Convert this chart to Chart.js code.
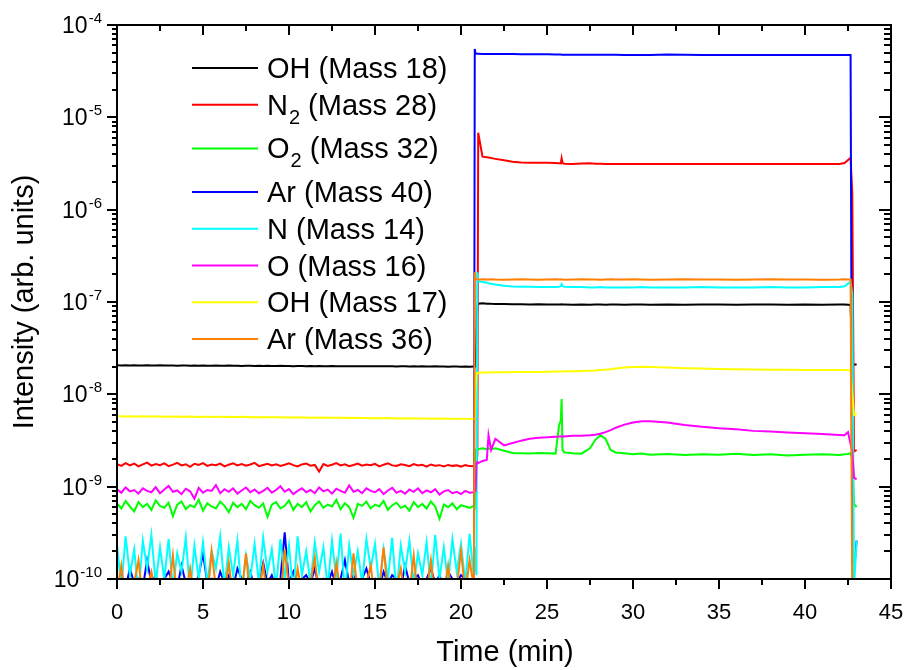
<!DOCTYPE html>
<html>
<head>
<meta charset="utf-8">
<title>Mass spectrometer signals</title>
<script src="https://cdn.jsdelivr.net/npm/chart.js@4.4.1/dist/chart.umd.min.js"></script>
<style>
  html, body { margin: 0; padding: 0; background: #fff; }
  #wrap { width: 906px; height: 670px; position: relative; }
</style>
</head>
<body>
<div id="wrap"><canvas id="msChart"></canvas></div>
<script>
// axis tick labels
const xTicks = [0, 5, 10, 15, 20, 25, 30, 35, 40, 45];
const yExponents = [-10, -9, -8, -7, -6, -5, -4];

// legend: species, subscript, mass number
const species = ['OH', 'N', 'O', 'Ar', 'N', 'O', 'OH', 'Ar'];
const subscripts = ['', '2', '2', '', '', '', '', ''];
const masses = [18, 28, 32, 40, 14, 16, 17, 36];
const lineColors = ['#000000', '#ff0000', '#00ff00', '#0000ff', '#00ffff', '#ff00ff', '#ffff00', '#ff8000'];

// time (min) before the gas is switched on
const baseTime = [
  0, 0.25, 0.5, 0.75, 1, 1.25, 1.5, 1.75, 2, 2.25, 2.5, 2.75,
  3, 3.25, 3.5, 3.75, 4, 4.25, 4.5, 4.75, 5, 5.25, 5.5, 5.75,
  6, 6.25, 6.5, 6.75, 7, 7.25, 7.5, 7.75, 8, 8.25, 8.5, 8.75,
  9, 9.25, 9.5, 9.75, 10, 10.25, 10.5, 10.75, 11, 11.25, 11.5, 11.75,
  12, 12.25, 12.5, 12.75, 13, 13.25, 13.5, 13.75, 14, 14.25, 14.5, 14.75,
  15, 15.25, 15.5, 15.75, 16, 16.25, 16.5, 16.75, 17, 17.25, 17.5, 17.75,
  18, 18.25, 18.5, 18.75, 19, 19.25, 19.5, 19.75, 20, 20.25, 20.5, 20.75
];

// baseline readings, each in the unit given in baseUnit
const oh18Base = [ // x1e-8
  2.06, 2.05, 2.06, 2.05, 2.06, 2.05, 2.05, 2.06, 2.05, 2.05, 2.06, 2.05,
  2.05, 2.05, 2.04, 2.05, 2.05, 2.04, 2.05, 2.04, 2.05, 2.04, 2.04, 2.05,
  2.04, 2.04, 2.05, 2.04, 2.04, 2.03, 2.04, 2.04, 2.03, 2.04, 2.03, 2.04,
  2.03, 2.03, 2.04, 2.03, 2.03, 2.02, 2.03, 2.03, 2.02, 2.03, 2.02, 2.03,
  2.02, 2.02, 2.03, 2.02, 2.02, 2.01, 2.02, 2.02, 2.01, 2.02, 2.01, 2.02,
  2.01, 2.01, 2.02, 2.01, 2.01, 2.0, 2.01, 2.01, 2.0, 2.01, 2.0, 2.01,
  2.0, 2.0, 2.01, 2.0, 2.0, 1.99, 2.0, 2.0, 1.99, 2.0, 1.99, 2.0
];
const n2Base = [ // x1e-9
  1.75, 1.68, 1.80, 1.70, 1.78, 1.66, 1.74, 1.82, 1.69, 1.76, 1.71, 1.79,
  1.67, 1.73, 1.81, 1.70, 1.75, 1.64, 1.77, 1.72, 1.80, 1.68, 1.74, 1.71,
  1.78, 1.66, 1.73, 1.79, 1.70, 1.76, 1.69, 1.74, 1.81, 1.67, 1.72, 1.77,
  1.70, 1.75, 1.68, 1.73, 1.79, 1.71, 1.66, 1.74, 1.78, 1.69, 1.72, 1.46,
  1.76, 1.68, 1.73, 1.80, 1.70, 1.75, 1.67, 1.72, 1.78, 1.69, 1.74, 1.71,
  1.77, 1.66, 1.73, 1.79, 1.70, 1.68, 1.75, 1.72, 1.67, 1.76, 1.70, 1.73,
  1.65, 1.74, 1.69, 1.71, 1.66, 1.72, 1.68, 1.70, 1.65, 1.71, 1.67, 1.66
];
const o2Base = [ // x1e-10
  6.6, 5.8, 7.0, 6.1, 5.4, 6.8, 6.0, 6.5, 5.6, 7.1, 6.2, 5.9,
  6.7, 4.8, 6.4, 6.9, 5.7, 6.3, 6.0, 7.2, 5.5, 6.6, 6.1, 5.8,
  6.9, 6.2, 5.3, 6.7, 6.0, 6.5, 5.7, 7.0, 6.3, 5.9, 6.6, 4.7,
  6.4, 6.8, 5.8, 6.2, 7.1, 5.6, 6.5, 6.0, 6.8, 5.4, 6.3, 6.9,
  5.9, 6.4, 6.1, 7.2, 5.7, 6.6, 6.0, 4.6, 6.5, 6.2, 6.9, 5.8,
  6.4, 6.1, 7.0, 5.6, 6.3, 6.7, 5.9, 6.2, 5.5, 6.8, 6.0, 6.5,
  5.8, 6.9, 6.1, 4.5, 6.4, 6.0, 6.6, 5.7, 6.3, 6.1, 5.9, 6.2
];
const ar40Base = [ // x1e-10
  0.9, 1.1, 0.8, 1.3, 0.9, 1.0, 0.8, 1.6, 0.9, 1.1, 0.8, 1.0,
  1.2, 0.9, 0.8, 1.4, 0.9, 1.0, 0.8, 1.1, 1.9, 0.9, 1.0, 0.8,
  1.2, 0.9, 1.1, 0.8, 1.3, 1.0, 0.9, 1.2, 0.8, 1.0, 1.5, 0.9,
  1.1, 0.8, 1.0, 3.2, 0.9, 1.2, 0.8, 1.0, 1.1, 0.9, 1.3, 0.8,
  1.0, 0.9, 1.2, 0.8, 1.0, 1.6, 0.9, 1.1, 0.8, 1.0, 1.3, 0.9,
  1.0, 0.8, 1.2, 0.9, 1.1, 1.0, 0.8, 1.4, 0.9, 1.0, 1.1, 0.8,
  1.0, 1.3, 0.9, 1.1, 0.8, 1.2, 1.0, 0.9, 1.1, 1.0, 0.8, 0.9
];
const n14Base = [ // x1e-10
  2.4, 0.8, 2.9, 1.1, 2.1, 0.7, 2.6, 1.3, 3.0, 0.9, 2.2, 1.0,
  2.7, 0.8, 1.9, 1.2, 2.8, 0.7, 2.3, 1.0, 2.5, 0.9, 2.0, 1.3,
  2.9, 0.8, 2.2, 1.1, 2.6, 0.7, 1.8, 1.0, 2.4, 0.9, 2.8, 1.2,
  2.1, 0.8, 2.7, 1.0, 2.3, 0.7, 2.9, 1.1, 2.0, 0.9, 2.5, 1.2,
  2.2, 0.8, 2.6, 1.0, 3.1, 0.7, 2.3, 1.1, 2.0, 0.9, 2.7, 1.3,
  2.4, 0.8, 2.1, 1.0, 2.8, 0.7, 2.3, 1.2, 2.6, 0.9, 1.9, 1.1,
  2.5, 0.8, 3.0, 1.0, 2.2, 0.9, 2.7, 1.2, 2.4, 0.9, 3.1, 1.0
];
const o16Base = [ // x1e-10
  9.4, 8.6, 9.8, 8.9, 9.2, 8.4, 9.6, 9.0, 8.7, 9.9, 8.5, 9.3,
  10.2, 8.8, 9.1, 8.3, 9.5, 8.9, 7.4, 9.7, 8.6, 9.2, 9.0, 10.4,
  8.5, 9.4, 8.8, 9.6, 8.4, 9.1, 9.8, 8.7, 9.3, 8.5, 9.0, 9.7,
  8.6, 9.2, 10.1, 8.8, 9.4, 8.3, 9.0, 9.6, 8.7, 9.2, 8.5, 9.8,
  8.9, 9.3, 8.4, 9.5, 9.0, 8.6, 10.3, 8.8, 9.2, 8.5, 9.6, 9.0,
  8.7, 9.4, 8.3, 9.1, 9.7, 8.6, 9.0, 8.4, 9.3, 8.8, 9.6, 8.5,
  9.1, 8.7, 9.4, 8.2, 8.9, 9.2, 8.5, 8.8, 8.3, 9.0, 8.6, 8.7
];
const oh17Base = [ // x1e-9
  5.78, 5.8, 5.76, 5.79, 5.77, 5.75, 5.78, 5.76, 5.77, 5.74, 5.76, 5.73,
  5.75, 5.72, 5.74, 5.73, 5.71, 5.74, 5.72, 5.7, 5.73, 5.71, 5.69, 5.72,
  5.7, 5.68, 5.71, 5.69, 5.67, 5.7, 5.68, 5.66, 5.68, 5.65, 5.67, 5.64,
  5.66, 5.63, 5.65, 5.62, 5.64, 5.61, 5.63, 5.6, 5.62, 5.59, 5.61, 5.58,
  5.6, 5.57, 5.59, 5.56, 5.58, 5.55, 5.57, 5.54, 5.56, 5.53, 5.55, 5.52,
  5.54, 5.51, 5.53, 5.5, 5.52, 5.49, 5.51, 5.48, 5.5, 5.47, 5.49, 5.46,
  5.48, 5.45, 5.47, 5.44, 5.46, 5.43, 5.45, 5.42, 5.44, 5.43, 5.42, 5.44
];
const ar36Base = [ // x1e-10
  0.7, 1.4, 0.6, 0.8, 0.9, 1.6, 0.6, 0.8, 1.2, 0.7, 0.6, 0.9,
  0.7, 1.8, 0.6, 0.8, 0.7, 1.3, 0.6, 0.9, 0.7, 0.6, 2.0, 0.8,
  0.6, 0.7, 1.5, 0.6, 0.8, 0.7, 1.9, 0.6, 0.8, 0.7, 1.4, 0.6,
  0.9, 0.7, 0.6, 2.1, 0.8, 0.6, 1.3, 0.7, 0.6, 0.9, 1.7, 0.6,
  0.8, 0.7, 0.6, 1.5, 0.7, 0.8, 0.6, 1.9, 0.7, 0.6, 0.9, 1.4,
  0.6, 0.8, 2.2, 0.7, 0.6, 0.8, 1.3, 0.6, 0.7, 1.8, 0.6, 0.8,
  0.7, 1.6, 0.6, 0.9, 0.7, 1.4, 0.6, 0.8, 2.0, 0.7, 1.6, 0.8
];
const baseUnit = [1e-8, 1e-9, 1e-10, 1e-10, 1e-10, 1e-10, 1e-9, 1e-10];

// time (min) from gas on to shut down
const runTime = [
  20.8, 20.85, 20.9, 20.95, 21.0, 21.25, 21.5, 21.6, 21.75, 22.0,
  22.5, 23.0, 23.5, 24.0, 24.5, 25.0, 25.5, 25.7, 25.8, 25.85,
  25.9, 26.0, 26.5, 27.0, 27.5, 27.8, 28.1, 28.4, 28.7, 29.0,
  29.5, 30.0, 30.5, 31.0, 32.0, 33.0, 34.0, 35.0, 36.0, 37.0,
  38.0, 39.0, 40.0, 41.0, 42.0, 42.3, 42.5, 42.65, 42.75, 42.85, 43.0
];
const oh18Run = [
  2.0e-8, 2.0e-8, 4.5e-8, 9.0e-8, 9.6e-8, 9.7e-8, 9.6e-8, 9.6e-8, 9.55e-8, 9.5e-8,
  9.5e-8, 9.45e-8, 9.45e-8, 9.4e-8, 9.45e-8, 9.4e-8, 9.4e-8, 9.4e-8, 9.4e-8, 9.45e-8,
  9.4e-8, 9.4e-8, 9.35e-8, 9.4e-8, 9.35e-8, 9.4e-8, 9.4e-8, 9.35e-8, 9.4e-8, 9.4e-8,
  9.35e-8, 9.4e-8, 9.4e-8, 9.35e-8, 9.4e-8, 9.35e-8, 9.4e-8, 9.4e-8, 9.35e-8, 9.4e-8,
  9.4e-8, 9.35e-8, 9.4e-8, 9.35e-8, 9.4e-8, 9.4e-8, 9.35e-8, 9.3e-8, 2.1e-8, 2.1e-8, 2.1e-8
];
const n2Run = [
  1.68e-9, 1.7e-9, 1.8e-9, 2.2e-9, 6.8e-6, 3.75e-6, 3.7e-6, 3.68e-6, 3.62e-6, 3.55e-6,
  3.42e-6, 3.3e-6, 3.25e-6, 3.23e-6, 3.22e-6, 3.22e-6, 3.2e-6, 3.18e-6, 3.17e-6, 3.6e-6,
  3.2e-6, 3.14e-6, 3.13e-6, 3.16e-6, 3.18e-6, 3.15e-6, 3.14e-6, 3.13e-6, 3.12e-6, 3.12e-6,
  3.13e-6, 3.12e-6, 3.13e-6, 3.12e-6, 3.12e-6, 3.12e-6, 3.12e-6, 3.12e-6, 3.12e-6, 3.12e-6,
  3.12e-6, 3.12e-6, 3.12e-6, 3.12e-6, 3.13e-6, 3.2e-6, 3.45e-6, 3.65e-6, 1.5e-6, 2.4e-9, 2.5e-9
];
const o2Run = [
  6.0e-10, 2.5e-9, 2.55e-9, 2.6e-9, 2.55e-9, 2.6e-9, 2.55e-9, 2.6e-9, 2.55e-9, 2.6e-9,
  2.45e-9, 2.32e-9, 2.3e-9, 2.28e-9, 2.32e-9, 2.3e-9, 2.28e-9, 4.6e-9, 5.2e-9, 8.9e-9,
  2.5e-9, 2.35e-9, 2.3e-9, 2.28e-9, 2.6e-9, 3.2e-9, 3.6e-9, 3.3e-9, 2.5e-9, 2.35e-9,
  2.3e-9, 2.25e-9, 2.28e-9, 2.22e-9, 2.26e-9, 2.2e-9, 2.25e-9, 2.22e-9, 2.27e-9, 2.2e-9,
  2.24e-9, 2.18e-9, 2.22e-9, 2.25e-9, 2.2e-9, 2.24e-9, 2.26e-9, 2.3e-9, 2.0e-9, 6.5e-10, 6.0e-10
];
const ar40Run = [
  5.5e-5, 4.9e-5, 4.88e-5, 4.87e-5, 4.87e-5, 4.86e-5, 4.86e-5, 4.86e-5, 4.85e-5, 4.85e-5,
  4.84e-5, 4.84e-5, 4.83e-5, 4.83e-5, 4.82e-5, 4.82e-5, 4.8e-5, 4.8e-5, 4.78e-5, 4.77e-5,
  4.76e-5, 4.76e-5, 4.76e-5, 4.75e-5, 4.75e-5, 4.75e-5, 4.75e-5, 4.75e-5, 4.75e-5, 4.75e-5,
  4.74e-5, 4.74e-5, 4.74e-5, 4.74e-5, 4.78e-5, 4.75e-5, 4.74e-5, 4.74e-5, 4.74e-5, 4.74e-5,
  4.74e-5, 4.74e-5, 4.74e-5, 4.74e-5, 4.74e-5, 4.74e-5, 4.74e-5, 4.74e-5, 1.5e-10, 1.2e-10, 2.6e-10
];
const n14Run = [
  2.2e-10, 1.4e-10, 1.1e-10, 2.1e-7, 1.68e-7, 1.65e-7, 1.62e-7, 1.6e-7, 1.58e-7, 1.55e-7,
  1.5e-7, 1.47e-7, 1.46e-7, 1.46e-7, 1.45e-7, 1.45e-7, 1.45e-7, 1.46e-7, 1.48e-7, 1.56e-7,
  1.5e-7, 1.46e-7, 1.45e-7, 1.45e-7, 1.44e-7, 1.44e-7, 1.45e-7, 1.44e-7, 1.44e-7, 1.44e-7,
  1.44e-7, 1.44e-7, 1.45e-7, 1.44e-7, 1.44e-7, 1.44e-7, 1.45e-7, 1.44e-7, 1.44e-7, 1.44e-7,
  1.45e-7, 1.44e-7, 1.44e-7, 1.45e-7, 1.45e-7, 1.48e-7, 1.58e-7, 1.65e-7, 1.2e-7, 0.8e-10, 2.6e-10
];
const o16Run = [
  8.8e-10, 9.0e-10, 1.8e-9, 1.85e-9, 1.8e-9, 1.9e-9, 1.95e-9, 3.6e-9, 2.5e-9, 3.3e-9,
  2.8e-9, 2.97e-9, 3.15e-9, 3.3e-9, 3.38e-9, 3.42e-9, 3.48e-9, 3.5e-9, 3.52e-9, 3.5e-9,
  3.52e-9, 3.5e-9, 3.55e-9, 3.55e-9, 3.6e-9, 3.65e-9, 3.75e-9, 3.9e-9, 4.1e-9, 4.35e-9,
  4.7e-9, 4.95e-9, 5.1e-9, 5.1e-9, 4.95e-9, 4.65e-9, 4.45e-9, 4.28e-9, 4.18e-9, 4.02e-9,
  3.95e-9, 3.87e-9, 3.8e-9, 3.72e-9, 3.62e-9, 3.6e-9, 3.9e-9, 2.9e-9, 2.4e-9, 1.25e-9, 1.2e-9
];
const oh17Run = [
  5.45e-9, 1.2e-8, 1.68e-8, 1.7e-8, 1.71e-8, 1.72e-8, 1.72e-8, 1.72e-8, 1.73e-8, 1.73e-8,
  1.73e-8, 1.74e-8, 1.74e-8, 1.75e-8, 1.75e-8, 1.76e-8, 1.77e-8, 1.77e-8, 1.77e-8, 1.77e-8,
  1.77e-8, 1.78e-8, 1.78e-8, 1.79e-8, 1.8e-8, 1.81e-8, 1.83e-8, 1.85e-8, 1.87e-8, 1.9e-8,
  1.95e-8, 1.98e-8, 1.99e-8, 1.98e-8, 1.95e-8, 1.92e-8, 1.9e-8, 1.88e-8, 1.87e-8, 1.86e-8,
  1.85e-8, 1.85e-8, 1.84e-8, 1.84e-8, 1.83e-8, 1.83e-8, 1.82e-8, 1.82e-8, 1.0e-8, 6.0e-9, 6.2e-9
];
const ar36Run = [
  2.1e-7, 1.8e-7, 1.76e-7, 1.75e-7, 1.75e-7, 1.76e-7, 1.75e-7, 1.75e-7, 1.76e-7, 1.75e-7,
  1.74e-7, 1.75e-7, 1.76e-7, 1.75e-7, 1.74e-7, 1.75e-7, 1.76e-7, 1.75e-7, 1.75e-7, 1.76e-7,
  1.75e-7, 1.74e-7, 1.75e-7, 1.76e-7, 1.75e-7, 1.75e-7, 1.74e-7, 1.75e-7, 1.76e-7, 1.75e-7,
  1.75e-7, 1.76e-7, 1.75e-7, 1.74e-7, 1.75e-7, 1.76e-7, 1.75e-7, 1.75e-7, 1.74e-7, 1.75e-7,
  1.76e-7, 1.75e-7, 1.75e-7, 1.74e-7, 1.75e-7, 1.76e-7, 1.75e-7, 1.75e-7, 0.5e-10, 0.5e-10, 0.5e-10
];

const baseSets = [oh18Base, n2Base, o2Base, ar40Base, n14Base, o16Base, oh17Base, ar36Base];
const runSets = [oh18Run, n2Run, o2Run, ar40Run, n14Run, o16Run, oh17Run, ar36Run];

const FONT = '"Liberation Sans", Arial, sans-serif';

function buildPoints(i) {
    const pts = baseTime.map((t, k) => ({ x: t, y: baseSets[i][k] * baseUnit[i] }));
    return pts.concat(runTime.map((t, k) => ({ x: t, y: runSets[i][k] })));
}

// frame with ticks on all four sides, tick labels, titles and the legend
const decor = {
    id: 'decor',
    afterDraw(chart) {
        const { ctx, chartArea: a } = chart;
        const xs = chart.scales.x, ys = chart.scales.y;
        ctx.save();
        ctx.strokeStyle = '#000';
        ctx.fillStyle = '#000';
        ctx.lineWidth = 2;

        ctx.beginPath();
        xTicks.forEach((v, i) => {
            const px = Math.round(xs.getPixelForValue(v));
            ctx.moveTo(px, a.bottom); ctx.lineTo(px, a.bottom + 10);
            ctx.moveTo(px, a.top); ctx.lineTo(px, a.top + 10);
            if (i < xTicks.length - 1) {
                const mx = Math.round(xs.getPixelForValue((v + xTicks[i + 1]) / 2));
                ctx.moveTo(mx, a.bottom); ctx.lineTo(mx, a.bottom + 6);
                ctx.moveTo(mx, a.top); ctx.lineTo(mx, a.top + 6);
            }
        });
        yExponents.forEach((e, i) => {
            const py = Math.round(ys.getPixelForValue(Math.pow(10, e)));
            ctx.moveTo(a.left - 10, py); ctx.lineTo(a.left, py);
            ctx.moveTo(a.right - 12, py); ctx.lineTo(a.right, py);
            if (i < yExponents.length - 1) {
                for (let m = 2; m <= 9; m++) {
                    const my = Math.round(ys.getPixelForValue(m * Math.pow(10, e)));
                    ctx.moveTo(a.left - 5, my); ctx.lineTo(a.left, my);
                    ctx.moveTo(a.right - 7, my); ctx.lineTo(a.right, my);
                }
            }
        });
        ctx.stroke();
        ctx.strokeRect(a.left, a.top, a.right - a.left, a.bottom - a.top);

        // x tick labels
        ctx.font = `22px ${FONT}`;
        ctx.textAlign = 'center';
        ctx.textBaseline = 'alphabetic';
        xTicks.forEach(v => ctx.fillText(String(v), xs.getPixelForValue(v), a.bottom + 40));

        // y tick labels 10^n
        ctx.textAlign = 'left';
        yExponents.forEach(e => {
            const py = ys.getPixelForValue(Math.pow(10, e));
            const sup = String(e);
            ctx.font = `23px ${FONT}`;
            const w1 = ctx.measureText('10').width;
            ctx.font = `15px ${FONT}`;
            const w2 = ctx.measureText(sup).width;
            const x0 = a.left - 16 - w1 - w2;
            ctx.font = `23px ${FONT}`;
            ctx.fillText('10', x0, py + 8);
            ctx.font = `15px ${FONT}`;
            ctx.fillText(sup, x0 + w1 + 1, py - 2);
        });

        // axis titles
        ctx.font = `29px ${FONT}`;
        ctx.textAlign = 'center';
        ctx.fillText('Time (min)', (a.left + a.right) / 2 + 1, a.bottom + 82);
        ctx.save();
        ctx.translate(33, (a.top + a.bottom) / 2);
        ctx.rotate(-Math.PI / 2);
        ctx.fillText('Intensity (arb. units)', 0, 0);
        ctx.restore();

        // legend
        ctx.textAlign = 'left';
        let ly = a.top + 43;
        species.forEach((name, i) => {
            ctx.strokeStyle = lineColors[i];
            ctx.lineWidth = 2;
            ctx.beginPath();
            ctx.moveTo(192, ly); ctx.lineTo(258, ly);
            ctx.stroke();
            let tx = 267;
            ctx.font = `29px ${FONT}`;
            ctx.fillText(name, tx, ly + 10);
            tx += ctx.measureText(name).width;
            if (subscripts[i]) {
                ctx.font = `20px ${FONT}`;
                ctx.fillText(subscripts[i], tx + 1, ly + 19);
                tx += ctx.measureText(subscripts[i]).width + 1;
            }
            ctx.font = `29px ${FONT}`;
            ctx.fillText(` (Mass ${masses[i]})`, tx, ly + 10);
            ly += subscripts[i] ? 43.7 : 36.7;
        });
        ctx.restore();
    }
};

const datasets = species.map((name, i) => ({
    label: name + subscripts[i] + ' (Mass ' + masses[i] + ')',
    data: buildPoints(i),
    borderColor: lineColors[i],
    borderWidth: 2,
    pointRadius: 0,
    fill: false,
    tension: 0,
    order: species.length - 1 - i
}));

new Chart(document.getElementById('msChart'), {
    type: 'line',
    data: { datasets: datasets },
    options: {
        responsive: true,
        maintainAspectRatio: false,
        animation: false,
        layout: { padding: { left: 117, right: 15, top: 25, bottom: 91 } },
        plugins: { legend: { display: false }, tooltip: { enabled: false } },
        scales: {
            x: { type: 'linear', min: 0, max: 45, display: false },
            y: { type: 'logarithmic', min: 1e-10, max: 1e-4, display: false }
        }
    },
    plugins: [decor]
});
</script>
</body>
</html>
